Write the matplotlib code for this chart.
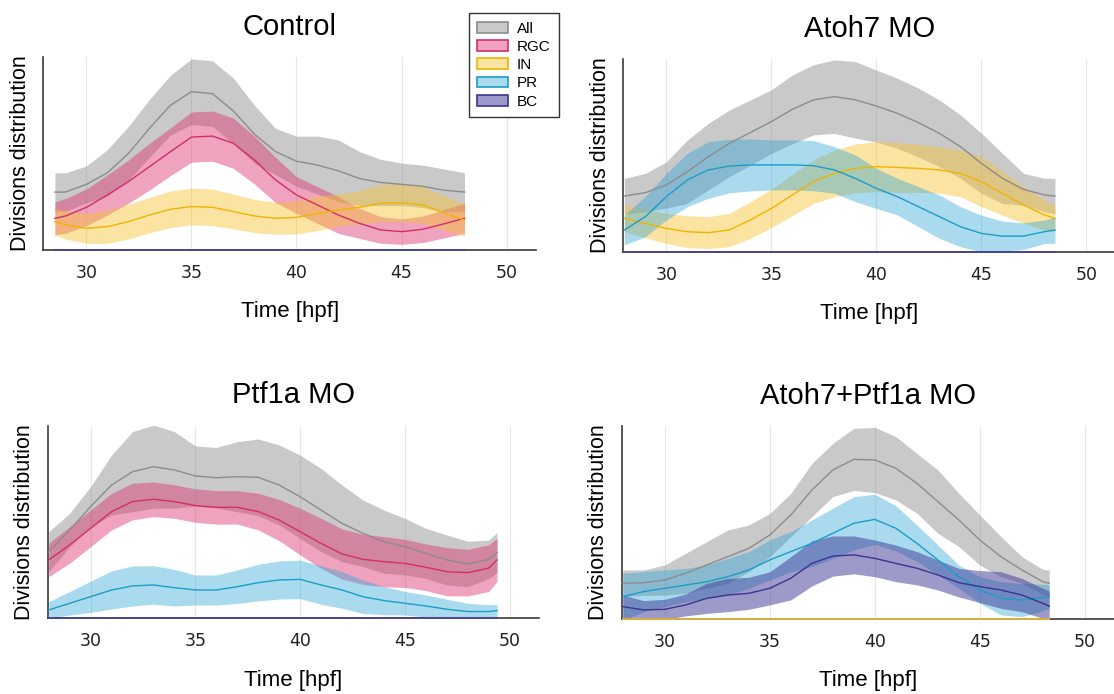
import matplotlib.pyplot as plt
import numpy as np

# time points (hpf) for each condition
x_ctrl = [28.5, 29, 30, 31, 32, 33, 34, 35, 36, 37, 38, 39, 40, 41, 42, 43, 44, 45, 46, 47, 48]
x_atoh = [28, 29, 30, 31, 32, 33, 34, 35, 36, 37, 38, 39, 40, 41, 42, 43, 44, 45, 46, 47, 48, 48.5]
x_ptf = [28, 29, 30, 31, 32, 33, 34, 35, 36, 37, 38, 39, 40, 41, 42, 43, 44, 45, 46, 47, 48, 49, 49.4]
x_dbl = [28, 29, 30, 31, 32, 33, 34, 35, 36, 37, 38, 39, 40, 41, 42, 43, 44, 45, 46, 47, 48, 48.3]

# Control
ctrl_all_mean = [.30, .30, .34, .40, .50, .63, .75, .82, .81, .72, .60, .51, .46, .44, .41, .37, .35, .34, .33, .31, .30]
ctrl_all_sd = [.10, .10, .095, .12, .14, .15, .155, .17, .17, .17, .15, .12, .13, .15, .16, .14, .12, .11, .11, .11, .10]
ctrl_rgc_mean = [.164, .176, .221, .285, .354, .432, .509, .585, .59, .553, .466, .363, .285, .233, .181, .138, .104, .095, .107, .135, .164]
ctrl_rgc_sd = [.086, .09, .095, .104, .112, .121, .124, .13, .13, .13, .124, .117, .095, .095, .095, .078, .069, .066, .069, .073, .078]
ctrl_in_mean = [.147, .13, .112, .121, .147, .181, .211, .225, .221, .199, .176, .164, .169, .19, .207, .221, .242, .245, .233, .193, .155]
ctrl_in_sd = [.069, .073, .078, .086, .09, .092, .095, .095, .095, .09, .086, .083, .086, .09, .083, .086, .095, .1, .095, .09, .083]

# Atoh7 MO
atoh_all_mean = [.289, .307, .347, .416, .494, .563, .619, .676, .74, .789, .806, .789, .757, .719, .671, .615, .546, .459, .381, .324, .295, .289]
atoh_all_sd = [.092, .1, .12, .165, .173, .173, .17, .165, .179, .182, .191, .199, .187, .182, .179, .173, .165, .156, .13, .083, .087, .092]
atoh_in_mean = [.173, .147, .121, .104, .099, .113, .165, .225, .295, .364, .407, .433, .442, .438, .433, .425, .407, .364, .303, .243, .191, .173]
atoh_in_sd = [.069, .075, .078, .083, .083, .087, .095, .1, .107, .113, .121, .127, .13, .13, .125, .121, .121, .13, .113, .095, .078, .069]
atoh_pr_mean = [.113, .182, .286, .373, .425, .445, .451, .451, .451, .447, .425, .381, .329, .286, .234, .182, .13, .095, .081, .081, .104, .113]
atoh_pr_sd = [.078, .104, .121, .139, .147, .139, .135, .13, .13, .13, .121, .121, .104, .095, .104, .113, .104, .095, .078, .069, .061, .069]

# Ptf1a MO
ptf_all_mean = [.346, .458, .58, .692, .761, .787, .77, .739, .73, .735, .732, .692, .631, .562, .493, .441, .398, .372, .337, .303, .282, .306, .341]
ptf_all_sd = [.104, .087, .104, .156, .208, .216, .199, .156, .157, .182, .199, .208, .216, .216, .199, .173, .164, .147, .13, .13, .118, .1, .104]
ptf_rgc_mean = [.303, .381, .467, .554, .606, .618, .606, .585, .576, .576, .554, .51, .45, .389, .334, .306, .294, .285, .265, .242, .237, .26, .303]
ptf_rgc_sd = [.087, .095, .095, .095, .095, .09, .087, .087, .087, .087, .095, .107, .121, .13, .13, .13, .13, .125, .121, .125, .121, .121, .112]
ptf_pr_mean = [.043, .078, .112, .147, .168, .173, .159, .147, .147, .164, .185, .199, .202, .173, .147, .112, .092, .078, .064, .047, .035, .035, .04]
ptf_pr_sd = [.043, .061, .081, .099, .104, .1, .095, .078, .078, .087, .095, .099, .1, .1, .095, .087, .073, .061, .057, .052, .043, .035, .031]

# Atoh7+Ptf1a MO
dbl_all_mean = [.185, .188, .202, .237, .28, .323, .366, .435, .539, .668, .772, .827, .824, .781, .703, .608, .513, .409, .323, .254, .193, .185]
dbl_all_sd = [.069, .066, .078, .104, .121, .138, .121, .112, .112, .138, .138, .161, .169, .164, .155, .164, .138, .13, .104, .069, .064, .069]
dbl_pr_mean = [.116, .142, .159, .176, .193, .219, .254, .306, .349, .392, .444, .496, .516, .47, .392, .306, .219, .15, .107, .098, .111, .116]
dbl_pr_sd = [.121, .104, .095, .086, .086, .095, .095, .104, .104, .121, .13, .138, .13, .117, .095, .078, .06, .069, .086, .086, .069, .06]
dbl_bc_mean = [.064, .047, .05, .073, .107, .124, .133, .159, .211, .288, .326, .332, .314, .288, .263, .228, .188, .168, .15, .124, .081, .067]
dbl_bc_sd = [.06, .048, .052, .057, .078, .086, .083, .086, .112, .117, .104, .098, .095, .095, .086, .078, .074, .083, .095, .086, .078, .078]

cell_types = ["All", "RGC", "IN", "PR", "BC"]
fill_colors = ["#808080", "#dc2f6e", "#f7c232", "#2aa3d6", "#3c3796"]
line_colors = ["#8c8c8c", "#d12f68", "#f0b400", "#1c9cc9", "#3a3590"]
zero_colors = ["#8c8c8c", "#d12f68", "#d9b040", "#1c9cc9", "#4a4690"]
fill_alpha = [0.42, 0.44, 0.45, 0.4, 0.5]

# None = no divisions of that type in the condition
panels = [
    ("Control", x_ctrl, [(ctrl_all_mean, ctrl_all_sd), (ctrl_rgc_mean, ctrl_rgc_sd),
                         (ctrl_in_mean, ctrl_in_sd), None, None]),
    ("Atoh7 MO", x_atoh, [(atoh_all_mean, atoh_all_sd), None, (atoh_in_mean, atoh_in_sd),
                          (atoh_pr_mean, atoh_pr_sd), None]),
    ("Ptf1a MO", x_ptf, [(ptf_all_mean, ptf_all_sd), (ptf_rgc_mean, ptf_rgc_sd), None,
                         (ptf_pr_mean, ptf_pr_sd), None]),
    ("Atoh7+Ptf1a MO", x_dbl, [(dbl_all_mean, dbl_all_sd), None, None,
                               (dbl_pr_mean, dbl_pr_sd), (dbl_bc_mean, dbl_bc_sd)]),
]

# axes rectangles in figure fraction
rects = [
    [0.0389, 0.6398, 0.4422, 0.2781],
    [0.5595, 0.6373, 0.4422, 0.2773],
    [0.0428, 0.1091, 0.4410, 0.2775],
    [0.5581, 0.1081, 0.4422, 0.2781],
]

fig = plt.figure(figsize=(11.14, 6.94), dpi=100)

for (title, x, series), rect in zip(panels, rects):
    ax = fig.add_axes(rect)
    x = np.array(x)
    for i, s in enumerate(series):
        if s is None:
            # type absent: flat line on the x axis
            ax.plot(x, np.zeros(len(x)), color=zero_colors[i], lw=1.4,
                    clip_on=False, zorder=3)
            continue
        mean = np.array(s[0])
        sd = np.array(s[1])
        ax.fill_between(x, mean - sd, mean + sd, color=fill_colors[i],
                        alpha=fill_alpha[i], lw=0)
        ax.plot(x, mean, color=line_colors[i], lw=1.0, zorder=3)

    ax.set_xlim(27.95, 51.4)
    ax.set_ylim(0, 1.0)
    ax.set_xticks([30, 35, 40, 45, 50])
    ax.set_yticks([])
    ax.grid(axis="x", color="#e6e6e6", lw=0.8)
    ax.set_axisbelow(True)
    ax.tick_params(axis="x", length=0, pad=10, labelsize=12.5, labelcolor="#222222")
    for side in ["top", "right"]:
        ax.spines[side].set_visible(False)
    for side in ["left", "bottom"]:
        ax.spines[side].set_color("#3a3a3a")
        ax.spines[side].set_linewidth(1.2)
    ax.set_title(title, fontsize=21, family="Liberation Sans", pad=16)
    ax.set_xlabel("Time [hpf]", fontsize=16, family="Liberation Sans", labelpad=14)
    ax.set_ylabel("Divisions distribution", fontsize=15.5, family="Liberation Sans", labelpad=9)

handles = []
for i in range(len(cell_types)):
    rgba = list(plt.matplotlib.colors.to_rgba(fill_colors[i]))
    rgba[3] = fill_alpha[i]
    handles.append(plt.Rectangle((0, 0), 1, 1, facecolor=rgba,
                                 edgecolor=line_colors[i], lw=1.2))

fig.legend(handles, cell_types, loc="upper left", bbox_to_anchor=(0.421, 0.981),
           frameon=True, fancybox=False, edgecolor="#333333", framealpha=1,
           prop={"family": "Liberation Sans", "size": 11}, handlelength=2.0,
           handleheight=0.7, labelspacing=0.28, borderpad=0.55, handletextpad=0.6,
           borderaxespad=0)

fig.savefig("out.png", dpi=100)
